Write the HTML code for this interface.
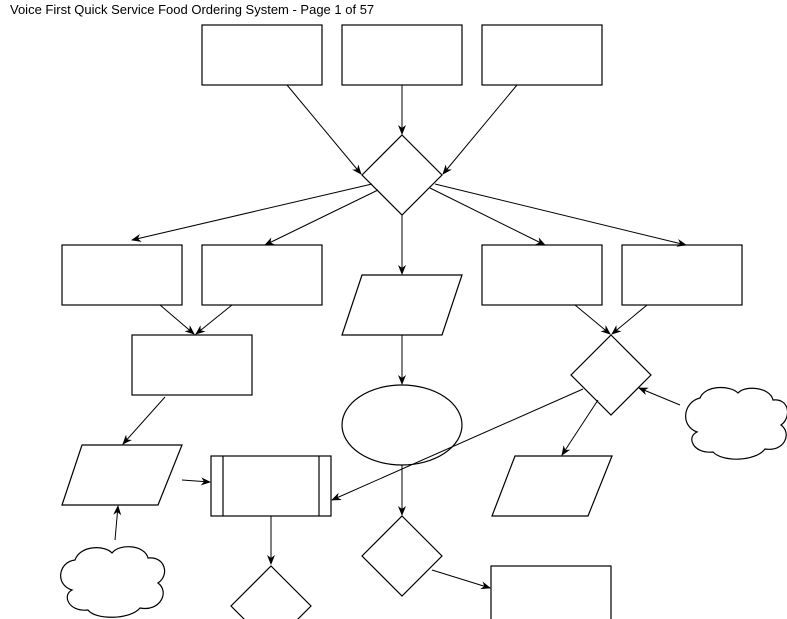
<!DOCTYPE html>
<html><head><style>body{margin:0;background:#fff}svg{display:block}</style></head><body>
<svg width="787" height="619" viewBox="0 0 787 619" xmlns="http://www.w3.org/2000/svg">
<defs><marker id="a" markerWidth="10" markerHeight="10" refX="9" refY="5" orient="auto" markerUnits="userSpaceOnUse"><path d="M0,1 L10,5 L0,9 L3,5 Z" fill="#000"/></marker></defs>
<text x="10" y="14" font-family="Liberation Sans, sans-serif" font-size="13" fill="#000">Voice First Quick Service Food Ordering System - Page 1 of 57</text>
<g fill="#fff" stroke="#000" stroke-width="1.2">
<rect x="202" y="25" width="120" height="60"/><rect x="342" y="25" width="120" height="60"/><rect x="482" y="25" width="120" height="60"/>
<polygon points="402,135 442,175 402,215 362,175"/>
<rect x="62" y="245" width="120" height="60"/><rect x="202" y="245" width="120" height="60"/>
<rect x="482" y="245" width="120" height="60"/><rect x="622" y="245" width="120" height="60"/>
<polygon points="362,275 462,275 442,335 342,335"/>
<rect x="132" y="335" width="120" height="60"/>
<ellipse cx="402" cy="425" rx="60" ry="40"/>
<polygon points="611,335 651,375 611,415 571,375"/>
<polygon points="82,445 182,445 158,505 62,505"/>
<rect x="211" y="456" width="120" height="60"/><line x1="223" y1="456" x2="223" y2="516"/><line x1="319" y1="456" x2="319" y2="516"/>
<polygon points="515,456 612,456 588,516 492,516"/>
<polygon points="402,516 442,556 402,596 362,556"/>
<polygon points="271,566 311,606 271,646 231,606"/>
<rect x="491" y="566" width="120" height="70"/>
<path d="M75,560 C80,545 105,545 112,553 C120,543 145,545 148,558 C165,556 170,575 158,583 C170,592 160,612 140,608 C130,620 95,620 88,610 C68,612 62,595 72,590 C55,585 58,562 75,560 Z"/>
<path d="M700,398 C705,385 730,385 738,393 C745,385 770,387 773,400 C789,398 792,417 781,425 C792,433 785,452 765,449 C755,462 722,462 713,452 C693,454 686,437 697,432 C680,426 683,402 700,398 Z"/>
</g>
<g stroke="#000" stroke-width="1" marker-end="url(#a)">
<line x1="287" y1="85" x2="361" y2="174"/><line x1="402" y1="85" x2="402" y2="134"/><line x1="517" y1="85" x2="443" y2="174"/>
<line x1="372" y1="184" x2="132" y2="240"/><line x1="378" y1="190" x2="265" y2="245"/><line x1="402" y1="215" x2="402" y2="274"/>
<line x1="430" y1="188" x2="545" y2="245"/><line x1="435" y1="184" x2="686" y2="245"/>
<line x1="160" y1="305" x2="194" y2="334"/><line x1="232" y1="305" x2="196" y2="334"/>
<line x1="402" y1="335" x2="402" y2="384"/>
<line x1="575" y1="305" x2="610" y2="334"/><line x1="647" y1="305" x2="612" y2="334"/>
<line x1="165" y1="397" x2="123" y2="444"/>
<line x1="583" y1="389" x2="332" y2="500"/>
<line x1="598" y1="400" x2="562" y2="455"/>
<line x1="680" y1="405" x2="639" y2="388"/>
<line x1="115" y1="540" x2="118" y2="506"/>
<line x1="182" y1="480" x2="210" y2="482"/>
<line x1="271" y1="516" x2="271" y2="564"/>
<line x1="402" y1="465" x2="402" y2="515"/>
<line x1="432" y1="570" x2="490" y2="588"/>
</g>
</svg>
</body></html>
